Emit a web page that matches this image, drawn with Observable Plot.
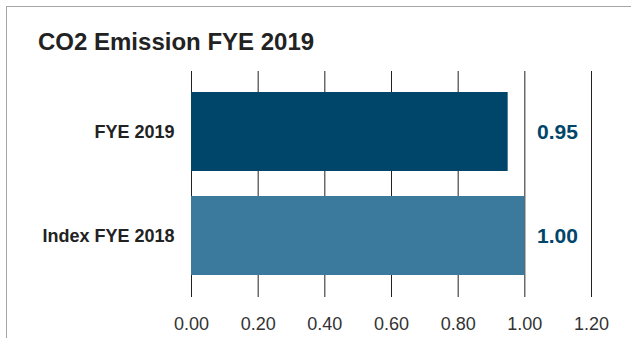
<!DOCTYPE html>
<html>
<head>
<meta charset="utf-8">
<script src="https://cdn.jsdelivr.net/npm/d3@7"></script>
<script src="https://cdn.jsdelivr.net/npm/@observablehq/plot@0.6"></script>
<style>
  html, body { margin: 0; padding: 0; background: #fff; }
  body { width: 631px; height: 338px; overflow: hidden; position: relative; font-family: "Liberation Sans", Arial, Helvetica, sans-serif; }
  #frame { position: absolute; left: 6px; top: 6px; width: 700px; height: 400px; border-top: 1px solid #a6a6a6; border-left: 1px solid #a6a6a6; }
  #title { position: absolute; left: 38px; top: 30px; margin: 0; font-size: 24px; line-height: 24px; font-weight: bold; color: #222; white-space: nowrap; }
  #chart { position: absolute; left: 0; top: 60px; }
</style>
</head>
<body>
<div id="frame"></div>
<div id="title">CO2 Emission FYE 2019</div>
<div id="chart"></div>
<script>
const categories = ["FYE 2019", "Index FYE 2018"];
const values = [0.95, 1.00];
const xTicks = [0, 0.2, 0.4, 0.6, 0.8, 1.0, 1.2];

const data = categories.map((c, i) => ({category: c, value: values[i]}));
const fmt = d3.format(".2f");

const chart = Plot.plot({
  width: 631,
  height: 278,
  marginTop: 11,
  marginBottom: 41,
  marginLeft: 191,
  marginRight: 40,
  style: {fontFamily: "'Liberation Sans', Arial, Helvetica, sans-serif", background: "transparent", overflow: "visible"},
  x: {domain: [0, 1.2]},
  y: {domain: categories, paddingInner: 0.24, paddingOuter: 0.2},
  color: {domain: categories, range: ["#00456a", "#3c7a9d"]},
  marks: [
    Plot.gridX(xTicks, {stroke: "#222", strokeOpacity: 1, strokeWidth: 1}),
    Plot.barX(data, {x: "value", y: "category", fill: "category"}),
    Plot.axisX(xTicks, {tickSize: 0, tickPadding: 20, fontSize: 18, fill: "#333", tickFormat: fmt, label: null}),
    Plot.axisY({tickSize: 0, tickPadding: 17, fontSize: 18, fontWeight: "bold", fill: "#222", label: null}),
    Plot.text(data, {y: "category", text: d => fmt(d.value), frameAnchor: "right", dx: -34, textAnchor: "middle", fill: "#00466b", fontSize: 21, fontWeight: "bold"})
  ]
});
document.getElementById("chart").appendChild(chart);
</script>
</body>
</html>
